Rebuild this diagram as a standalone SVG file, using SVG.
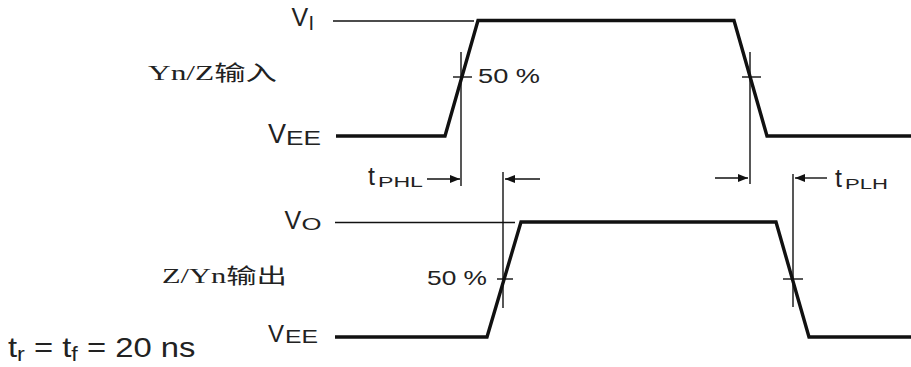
<svg xmlns="http://www.w3.org/2000/svg" width="911" height="367" viewBox="0 0 911 367">
<defs>
<style>
.sig{fill:none;stroke:#111;stroke-width:3.4;stroke-linejoin:miter}
.thin{fill:none;stroke:#111;stroke-width:1.4}
.t{font-family:"Liberation Sans",Arial,sans-serif;fill:#222}
.cn{font-family:"Liberation Serif","Noto Sans CJK SC",serif;fill:#222}
.arr{fill:none;stroke:#111;stroke-width:1.4}
</style>
<marker id="ah" viewBox="0 0 10 8" refX="10" refY="4" markerWidth="10" markerHeight="8" markerUnits="userSpaceOnUse" orient="auto">
<path d="M0,0 L10,4 L0,8 Z" fill="#111"/>
</marker>
</defs>
<rect width="911" height="367" fill="#fff"/>

<g id="input-waveform">
<line class="thin" x1="333" y1="21" x2="474" y2="21"/>
<polyline class="sig" points="336,136 445,136 478,20.5 734,20.5 767,136 911,136"/>
</g>

<g id="output-waveform">
<line class="thin" x1="335" y1="222.5" x2="515" y2="222.5"/>
<polyline class="sig" points="335,337 487,337 521,222 776,222 809,337 911,337"/>
</g>

<g id="connectors">
<line class="thin" x1="461" y1="52" x2="461" y2="186"/>
<line class="thin" x1="453" y1="77" x2="472" y2="77"/>
<line class="arr" x1="427" y1="179" x2="460" y2="179" marker-end="url(#ah)"/>
<line class="thin" x1="503" y1="172" x2="503" y2="308"/>
<line class="arr" x1="540" y1="179" x2="505" y2="179" marker-end="url(#ah)"/>
<line class="thin" x1="497" y1="279" x2="513" y2="279"/>

<line class="thin" x1="750" y1="52" x2="750" y2="184"/>
<line class="thin" x1="742" y1="77" x2="761" y2="77"/>
<line class="arr" x1="715" y1="178" x2="748" y2="178" marker-end="url(#ah)"/>
<line class="thin" x1="793" y1="174" x2="793" y2="307"/>
<line class="arr" x1="827" y1="178" x2="795" y2="178" marker-end="url(#ah)"/>
<line class="thin" x1="783" y1="279" x2="803" y2="279"/>
</g>

<g id="label-vi">
<text class="t" x="291.5" y="26" font-size="25">V</text>
<text class="t" x="308.5" y="30" font-size="20">I</text>
</g>
<g id="label-vee-top">
<text class="t" x="268" y="143" font-size="27">V</text>
<text class="t" x="286" y="145" font-size="20" textLength="35" lengthAdjust="spacingAndGlyphs">EE</text>
</g>
<g id="label-input">
<text class="cn" x="148" y="80" font-size="21" textLength="129" lengthAdjust="spacingAndGlyphs">Yn/Z输入</text>
</g>
<g id="label-50-top">
<text class="t" x="478" y="83.3" font-size="20" textLength="62" lengthAdjust="spacingAndGlyphs">50 %</text>
</g>
<g id="label-tphl">
<text class="t" x="368" y="185" font-size="25">t</text>
<text class="t" x="378" y="187.3" font-size="14.5" textLength="45" lengthAdjust="spacingAndGlyphs">PHL</text>
</g>
<g id="label-tplh">
<text class="t" x="835" y="186.7" font-size="25">t</text>
<text class="t" x="845" y="189.3" font-size="15" textLength="43" lengthAdjust="spacingAndGlyphs">PLH</text>
</g>
<g id="label-vo">
<text class="t" x="284.5" y="228.5" font-size="25">V</text>
<text class="t" x="301.5" y="230" font-size="17" textLength="20" lengthAdjust="spacingAndGlyphs">O</text>
</g>
<g id="label-output">
<text class="cn" x="162" y="283" font-size="21" textLength="125" lengthAdjust="spacingAndGlyphs">Z/Yn输出</text>
</g>
<g id="label-50-bottom">
<text class="t" x="427" y="285" font-size="21" textLength="60" lengthAdjust="spacingAndGlyphs">50 %</text>
</g>
<g id="label-vee-bottom">
<text class="t" x="268" y="341.5" font-size="24">V</text>
<text class="t" x="285" y="343" font-size="19" textLength="33" lengthAdjust="spacingAndGlyphs">EE</text>
</g>
<g id="label-trtf" transform="translate(8,356.7) scale(1.17,1)">
<text class="t" x="0" y="0" font-size="28">t<tspan font-size="20" dy="4">r</tspan><tspan dy="-4"> = t</tspan><tspan font-size="20" dy="4">f</tspan><tspan dy="-4"> = 20 ns</tspan></text>
</g>
</svg>
